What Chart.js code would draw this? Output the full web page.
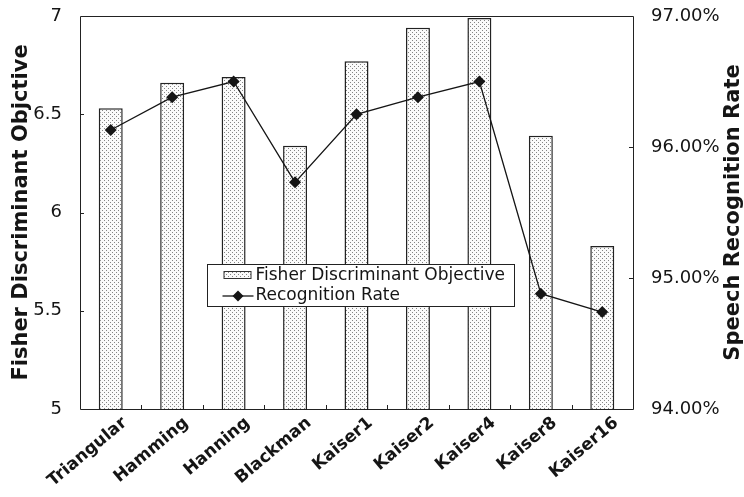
<!DOCTYPE html>
<html>
<head>
<meta charset="utf-8">
<script src="https://cdn.jsdelivr.net/npm/chart.js@4.4.1/dist/chart.umd.min.js"></script>
<style>
  html, body { margin: 0; padding: 0; background: #fff; }
  #wrap { width: 744px; height: 497px; }
</style>
</head>
<body>
<div id="wrap"><canvas id="c" width="744" height="497"></canvas></div>
<script>
// Window functions compared
const windows = ['Triangular', 'Hamming', 'Hanning', 'Blackman', 'Kaiser1', 'Kaiser2', 'Kaiser4', 'Kaiser8', 'Kaiser16'];
// Fisher discriminant objective per window (left axis)
const fisherObjective = [6.53, 6.66, 6.69, 6.34, 6.77, 6.94, 6.99, 6.39, 5.83];
// Speech recognition rate in percent (right axis)
const recognitionRate = [96.13, 96.38, 96.50, 95.73, 96.25, 96.38, 96.50, 94.88, 94.74];
// Axis tick values
const leftTicks = [5, 5.5, 6, 6.5, 7];
const rightTicks = [94, 95, 96, 97];

const INK = '#151515';
const RIGHT_TITLE = 'Speech Recognition Rate';

// Fine dotted fill for the bars
function stipple() {
  const t = document.createElement('canvas');
  t.width = 4; t.height = 4;
  const g = t.getContext('2d');
  g.fillStyle = '#fbfbfb';
  g.fillRect(0, 0, 4, 4);
  g.fillStyle = '#858585';
  g.fillRect(0, 0, 1, 1);
  g.fillRect(2, 2, 1, 1);
  return g.createPattern(t, 'repeat');
}
const dots = stipple();

// Plot frame, short inward tick marks and the right-hand axis title
const framePlugin = {
  id: 'frame',
  afterDatasetsDraw(chart) {
    const { ctx, chartArea: a, scales } = chart;
    ctx.save();
    ctx.strokeStyle = '#222';
    ctx.lineWidth = 1;
    ctx.beginPath();
    ctx.rect(Math.round(a.left) + 0.5, Math.round(a.top) + 0.5, Math.round(a.right - a.left), Math.round(a.bottom - a.top));
    ctx.stroke();
    ctx.beginPath();
    leftTicks.slice(1, -1).forEach(v => {
      const y = Math.round(scales.y.getPixelForValue(v)) + 0.5;
      ctx.moveTo(a.left, y); ctx.lineTo(a.left + 4, y);
    });
    rightTicks.slice(1, -1).forEach(v => {
      const y = Math.round(scales.y1.getPixelForValue(v)) + 0.5;
      ctx.moveTo(a.right, y); ctx.lineTo(a.right - 4, y);
    });
    for (let i = 1; i < windows.length; i++) {
      const x = Math.round((scales.x.getPixelForValue(i - 1) + scales.x.getPixelForValue(i)) / 2) + 0.5;
      ctx.moveTo(x, a.bottom); ctx.lineTo(x, a.bottom - 4);
    }
    ctx.stroke();

    // right axis title, reading bottom to top
    const s = scales.y1;
    ctx.translate(s.right - 10, (a.top + a.bottom) / 2);
    ctx.rotate(-Math.PI / 2);
    ctx.font = 'bold 21px "DejaVu Sans"';
    ctx.fillStyle = INK;
    ctx.textAlign = 'center';
    ctx.textBaseline = 'middle';
    ctx.fillText(RIGHT_TITLE, 0, 0);
    ctx.restore();
  }
};

// Boxed legend sitting inside the plot
const boxLegend = {
  id: 'boxLegend',
  afterDatasetsDraw(chart) {
    const { ctx, chartArea: a } = chart;
    const w = a.right - a.left;
    const x0 = Math.round(a.left + w * 0.229) + 0.5;
    const x1 = Math.round(a.left + w * 0.784) + 0.5;
    const y0 = 264.5, y1 = 306.5;
    ctx.save();
    ctx.fillStyle = '#fff';
    ctx.fillRect(x0, y0, x1 - x0, y1 - y0);
    ctx.strokeStyle = '#222';
    ctx.lineWidth = 1;
    ctx.strokeRect(x0, y0, x1 - x0, y1 - y0);
    // bar swatch
    ctx.fillStyle = dots;
    ctx.fillRect(x0 + 16, 271, 28, 8);
    ctx.strokeStyle = '#333';
    ctx.strokeRect(x0 + 16.5, 271.5, 27, 7);
    // line swatch
    ctx.strokeStyle = INK;
    ctx.lineWidth = 1.3;
    ctx.beginPath();
    ctx.moveTo(x0 + 15, 296); ctx.lineTo(x0 + 46, 296);
    ctx.stroke();
    ctx.fillStyle = INK;
    ctx.beginPath();
    const cx = x0 + 30.5, cy = 296, r = 5.5;
    ctx.moveTo(cx, cy - r); ctx.lineTo(cx + r, cy); ctx.lineTo(cx, cy + r); ctx.lineTo(cx - r, cy); ctx.closePath();
    ctx.fill();
    ctx.font = '17px "DejaVu Sans"';
    ctx.fillStyle = INK;
    ctx.textBaseline = 'middle';
    ctx.fillText('Fisher Discriminant Objective', x0 + 48, 276);
    ctx.fillText('Recognition Rate', x0 + 48, 296);
    ctx.restore();
  }
};

// Fixed axis boxes so the plot area sits where the frame should be
function fixVertical(width) {
  return s => { s.width = width; s.paddingTop = 0; s.paddingBottom = 0; };
}

new Chart(document.getElementById('c'), {
  type: 'bar',
  data: {
    labels: windows,
    datasets: [
      {
        type: 'line',
        label: 'Recognition Rate',
        data: recognitionRate,
        yAxisID: 'y1',
        borderColor: INK,
        borderWidth: 1.3,
        pointStyle: 'rectRot',
        pointRadius: 6,
        pointBackgroundColor: INK,
        pointBorderColor: INK,
        pointBorderWidth: 0,
        tension: 0,
        order: 0
      },
      {
        type: 'bar',
        label: 'Fisher Discriminant Objective',
        data: fisherObjective,
        yAxisID: 'y',
        backgroundColor: dots,
        borderColor: '#222',
        borderWidth: { top: 1.5, left: 1.5, right: 1.5, bottom: 0 },
        categoryPercentage: 1,
        barPercentage: 0.39,
        order: 1
      }
    ]
  },
  options: {
    responsive: false,
    devicePixelRatio: 1,
    animation: false,
    layout: { padding: { top: 16, left: 0, right: 0, bottom: 0 } },
    plugins: { legend: { display: false }, tooltip: { enabled: false } },
    scales: {
      x: {
        grid: { display: false, drawTicks: false },
        border: { display: false },
        ticks: {
          color: INK,
          font: { family: 'DejaVu Sans', weight: 'bold', size: 17 },
          minRotation: 40, maxRotation: 40, padding: 4, autoSkip: false, labelOffset: 14
        },
        afterFit(s) { s.height = 88; s.paddingLeft = 0; s.paddingRight = 0; }
      },
      y: {
        position: 'left',
        min: 5, max: 7,
        afterBuildTicks(s) { s.ticks = leftTicks.map(v => ({ value: v })); },
        grid: { display: false, drawTicks: false },
        border: { display: false },
        ticks: { color: INK, font: { family: 'DejaVu Sans', size: 18 }, padding: 18, callback: v => String(v) },
        title: {
          display: true, text: 'Fisher Discriminant Objctive', color: INK,
          font: { family: 'DejaVu Sans', weight: 'bold', size: 21 }, padding: { top: 9, bottom: 0 }
        },
        afterFit: fixVertical(80)
      },
      y1: {
        position: 'right',
        min: 94, max: 97,
        afterBuildTicks(s) { s.ticks = rightTicks.map(v => ({ value: v })); },
        grid: { display: false, drawTicks: false },
        border: { display: false },
        ticks: { color: INK, font: { family: 'DejaVu Sans', size: 18 }, padding: 18, callback: v => v.toFixed(2) + '%' },
        afterFit: fixVertical(111)
      }
    }
  },
  plugins: [framePlugin, boxLegend]
});
</script>
</body>
</html>
